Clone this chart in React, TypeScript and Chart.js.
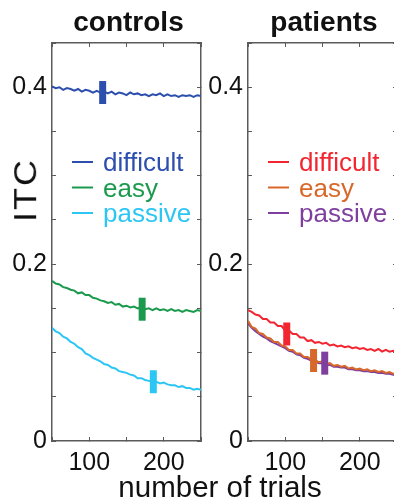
import React, { useEffect, useRef } from 'react';
import { Chart, registerables } from 'chart.js';

Chart.register(...registerables);

// ---------- data ----------
const TRIALS = [50, 55, 60, 65, 70, 75, 80, 85, 90, 95, 100, 105, 110, 115, 120, 125, 130, 135, 140, 145, 150,
  155, 160, 165, 170, 175, 180, 185, 190, 195, 200, 205, 210, 215, 220, 225, 230, 235, 240, 245, 250];

const CONTROLS_DIFFICULT = [0.401, 0.399, 0.400, 0.397, 0.399, 0.398, 0.396, 0.398, 0.395, 0.397, 0.396, 0.394, 0.396,
  0.394, 0.395, 0.393, 0.395, 0.392, 0.394, 0.393, 0.391, 0.394, 0.392, 0.393, 0.391, 0.392, 0.390, 0.392, 0.391,
  0.393, 0.390, 0.392, 0.390, 0.391, 0.389, 0.391, 0.390, 0.391, 0.389, 0.391, 0.390];
const CONTROLS_EASY = [0.181, 0.178, 0.177, 0.174, 0.173, 0.171, 0.170, 0.167, 0.168, 0.165, 0.165, 0.162, 0.161,
  0.159, 0.158, 0.156, 0.157, 0.154, 0.155, 0.152, 0.153, 0.151, 0.152, 0.150, 0.151, 0.149, 0.150, 0.148, 0.150,
  0.148, 0.149, 0.147, 0.149, 0.147, 0.148, 0.146, 0.148, 0.147, 0.146, 0.148, 0.147];
const CONTROLS_PASSIVE = [0.128, 0.124, 0.122, 0.118, 0.116, 0.112, 0.110, 0.106, 0.104, 0.099, 0.097, 0.094, 0.092,
  0.090, 0.087, 0.086, 0.083, 0.082, 0.079, 0.078, 0.077, 0.075, 0.074, 0.071, 0.071, 0.069, 0.068, 0.067, 0.067,
  0.065, 0.066, 0.064, 0.063, 0.063, 0.061, 0.062, 0.060, 0.060, 0.058, 0.059, 0.058];

const PATIENTS_DIFFICULT = [0.148, 0.146, 0.143, 0.142, 0.138, 0.138, 0.134, 0.134, 0.130, 0.130, 0.125, 0.125, 0.121,
  0.121, 0.117, 0.117, 0.113, 0.114, 0.111, 0.112, 0.110, 0.111, 0.108, 0.109, 0.107, 0.108, 0.106, 0.107, 0.105,
  0.106, 0.104, 0.105, 0.103, 0.104, 0.102, 0.104, 0.101, 0.103, 0.101, 0.102, 0.101];
const PATIENTS_EASY = [0.136, 0.129, 0.127, 0.122, 0.121, 0.117, 0.116, 0.112, 0.112, 0.108, 0.107, 0.103, 0.103,
  0.099, 0.099, 0.095, 0.095, 0.092, 0.092, 0.089, 0.090, 0.087, 0.088, 0.085, 0.086, 0.084, 0.085, 0.082, 0.083,
  0.081, 0.082, 0.080, 0.081, 0.079, 0.080, 0.078, 0.079, 0.077, 0.078, 0.076, 0.077];
const PATIENTS_PASSIVE = [0.133, 0.128, 0.124, 0.121, 0.118, 0.116, 0.113, 0.111, 0.109, 0.107, 0.105, 0.102, 0.101,
  0.098, 0.097, 0.094, 0.093, 0.091, 0.090, 0.088, 0.088, 0.086, 0.086, 0.084, 0.084, 0.083, 0.083, 0.081, 0.081,
  0.080, 0.080, 0.079, 0.079, 0.078, 0.078, 0.077, 0.077, 0.076, 0.076, 0.075, 0.075];

const CONTROLS_MARKER_TRIAL = [118, 171, 186];
const CONTROLS_MARKER_ITC = [0.394, 0.149, 0.067];
const PATIENTS_MARKER_TRIAL = [102, 138, 153];
const PATIENTS_MARKER_ITC = [0.121, 0.091, 0.088];
const MARKER_HALF = 0.013;

const LEGEND_LABELS = ['difficult', 'easy', 'passive'];
const X_TICK_LABELS = [100, 200];
const Y_TICK_LABELS = [0, 0.2, 0.4];

const CONTROLS_COLORS = ['#2C4FAE', '#1B9A4E', '#2CC6F4'];
const PATIENTS_COLORS = ['#F22630', '#D8682A', '#7E3F9E'];

const FONT = '"Liberation Sans", Arial, Helvetica, sans-serif';
const AXIS_COLOR = '#5a5a5a';

// plot area target inside each canvas
const CANVAS_W = 216;
const CANVAS_H = 502;
const AREA = { left: 52, right: 201, top: 43, bottom: 441 };

function insideLegend(colors: string[]) {
  return {
    id: 'insideLegend',
    afterDraw(chart: any) {
      const { ctx, chartArea } = chart;
      ctx.save();
      ctx.font = `26px ${FONT}`;
      ctx.textBaseline = 'alphabetic';
      ctx.textAlign = 'left';
      LEGEND_LABELS.forEach((lab, i) => {
        const base = chartArea.top + 128 + i * 25.5;
        ctx.strokeStyle = colors[i];
        ctx.lineWidth = 2;
        ctx.beginPath();
        ctx.moveTo(chartArea.left + 20, base - 9);
        ctx.lineTo(chartArea.left + 41, base - 9);
        ctx.stroke();
        ctx.fillStyle = colors[i];
        ctx.fillText(lab, chartArea.left + 51, base);
      });
      ctx.restore();
    },
  };
}

function makeConfig(series: number[][], colors: string[], mx: number[], my: number[]): any {
  const lineSets = series.map((vals, i) => ({
    label: LEGEND_LABELS[i],
    data: TRIALS.map((t, j) => ({ x: t, y: vals[j] })),
    borderColor: colors[i],
    borderWidth: 2,
    pointRadius: 0,
    tension: 0,
    fill: false,
    order: 0,
  }));
  const markerSets = mx.map((t, i) => ({
    label: LEGEND_LABELS[i] + ' marker',
    data: [{ x: t, y: my[i] - MARKER_HALF }, { x: t, y: my[i] + MARKER_HALF }],
    borderColor: colors[i],
    borderWidth: 7,
    borderCapStyle: 'butt',
    pointRadius: 0,
    fill: false,
    order: -1,
  }));
  const grid = { drawOnChartArea: false, drawTicks: true, tickLength: -4, color: AXIS_COLOR, lineWidth: 1 };
  const border = { display: true, color: AXIS_COLOR, width: 1.5 };
  const tickFont = { family: FONT, size: 25 };
  return {
    type: 'line',
    data: { datasets: [...markerSets, ...lineSets] },
    options: {
      responsive: false,
      animation: false,
      layout: { padding: { top: AREA.top, left: 0, right: 0, bottom: 0 } },
      plugins: { legend: { display: false }, tooltip: { enabled: false }, title: { display: false } },
      scales: {
        x: {
          type: 'linear', position: 'bottom', min: 50, max: 250,
          afterFit: (s: any) => { s.height = CANVAS_H - AREA.bottom; },
          ticks: {
            stepSize: 50, autoSkip: false, maxRotation: 0, minRotation: 0, padding: 11, color: '#111', font: tickFont,
            callback: (v: number) => (X_TICK_LABELS.includes(Math.round(v)) ? String(Math.round(v)) : ''),
          },
          grid, border,
        },
        x2: {
          type: 'linear', position: 'top', min: 50, max: 250,
          afterFit: (s: any) => { s.height = 0; },
          ticks: { stepSize: 50, autoSkip: false, display: false },
          grid, border,
        },
        y: {
          type: 'linear', position: 'left', min: 0, max: 0.45,
          afterFit: (s: any) => { s.width = AREA.left; },
          ticks: {
            stepSize: 0.05, autoSkip: false, padding: 9, color: '#111', font: tickFont,
            callback: (v: number) => {
              const hit = Y_TICK_LABELS.find((l) => Math.abs(l - v) < 1e-6);
              return hit === undefined ? '' : String(hit);
            },
          },
          grid, border,
        },
        y2: {
          type: 'linear', position: 'right', min: 0, max: 0.45,
          afterFit: (s: any) => { s.width = 0; },
          ticks: { stepSize: 0.05, autoSkip: false, display: false },
          grid, border,
        },
      },
    },
    plugins: [insideLegend(colors)],
  };
}

// nudge layout padding so that the plot area lands exactly on AREA
function pinArea(chart: any) {
  for (let k = 0; k < 4; k++) {
    const ca = chart.chartArea;
    const p = { ...chart.config.options.layout.padding };
    const dl = AREA.left - ca.left;
    const dr = ca.right - AREA.right;
    const dt = AREA.top - ca.top;
    const db = ca.bottom - AREA.bottom;
    if (Math.abs(dl) < 0.01 && Math.abs(dr) < 0.01 && Math.abs(dt) < 0.01 && Math.abs(db) < 0.01) break;
    p.left = Math.max(0, p.left + dl);
    p.right = Math.max(0, p.right + dr);
    p.top = Math.max(0, p.top + dt);
    p.bottom = Math.max(0, p.bottom + db);
    chart.config.options.layout.padding = p;
    chart.update();
  }
}

export default function App() {
  const leftRef = useRef<HTMLCanvasElement>(null);
  const rightRef = useRef<HTMLCanvasElement>(null);

  useEffect(() => {
    const c1 = new Chart(leftRef.current as HTMLCanvasElement,
      makeConfig([CONTROLS_DIFFICULT, CONTROLS_EASY, CONTROLS_PASSIVE], CONTROLS_COLORS, CONTROLS_MARKER_TRIAL, CONTROLS_MARKER_ITC));
    const c2 = new Chart(rightRef.current as HTMLCanvasElement,
      makeConfig([PATIENTS_DIFFICULT, PATIENTS_EASY, PATIENTS_PASSIVE], PATIENTS_COLORS, PATIENTS_MARKER_TRIAL, PATIENTS_MARKER_ITC));
    pinArea(c1);
    pinArea(c2);
    return () => { c1.destroy(); c2.destroy(); };
  }, []);

  const text: React.CSSProperties = { position: 'absolute', fontFamily: FONT, color: '#111', whiteSpace: 'nowrap' };
  const canvasStyle = (left: number): React.CSSProperties => ({ position: 'absolute', left, top: 0, width: CANVAS_W, height: CANVAS_H });

  return (
    <div style={{ position: 'fixed', left: 0, top: 0, width: 394, height: 502, overflow: 'hidden', background: '#fff' }}>
      <canvas ref={leftRef} width={CANVAS_W} height={CANVAS_H} style={canvasStyle(0)} />
      <canvas ref={rightRef} width={CANVAS_W} height={CANVAS_H} style={canvasStyle(196)} />
      <div style={{ ...text, left: 128.5, top: 8, transform: 'translateX(-50%)', fontSize: 28, lineHeight: '28px', fontWeight: 'bold' }}>controls</div>
      <div style={{ ...text, left: 324, top: 8, transform: 'translateX(-50%)', fontSize: 28, lineHeight: '28px', fontWeight: 'bold' }}>patients</div>
      <div style={{ ...text, left: 26, top: 190, transform: 'translate(-50%, -50%) rotate(-90deg) scaleY(0.85)', fontSize: 36, lineHeight: '36px', letterSpacing: 2 }}>ITC</div>
      <div style={{ ...text, left: 220, top: 497 - 0.8465 * 29.5, transform: 'translateX(-50%)', fontSize: 29.5, lineHeight: '29.5px' }}>number of trials</div>
    </div>
  );
}
